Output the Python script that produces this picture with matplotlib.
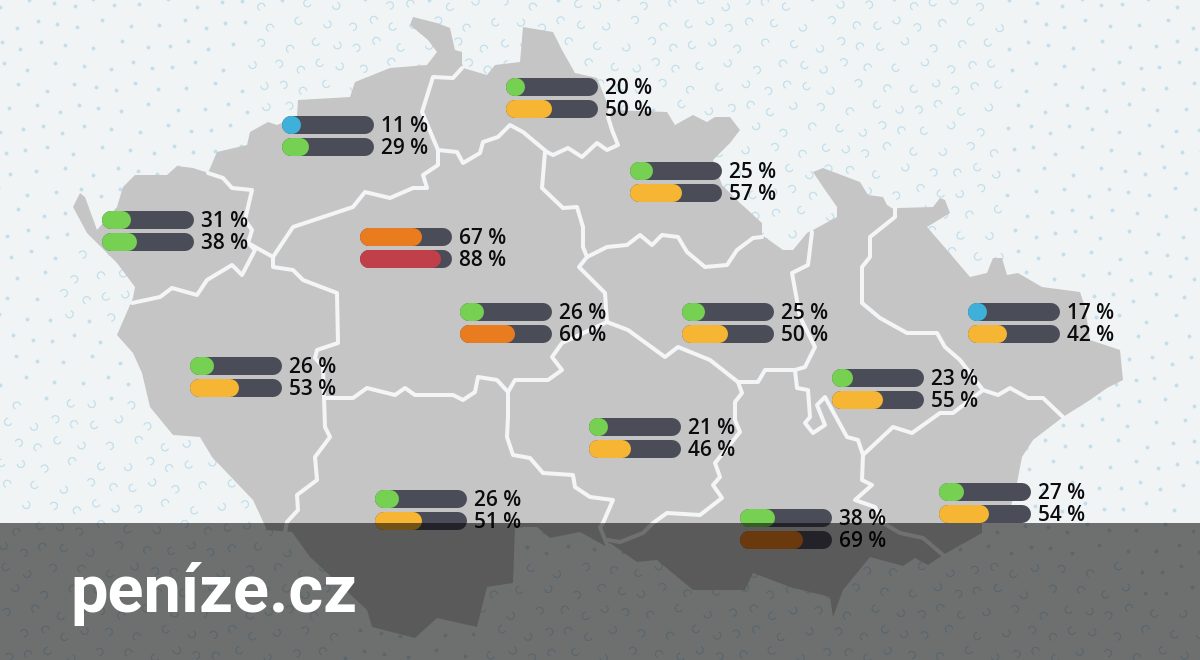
import numpy as np
import matplotlib
matplotlib.use('Agg')
import matplotlib.pyplot as plt
from matplotlib.patches import Polygon, Rectangle
from matplotlib.path import Path
from matplotlib.markers import MarkerStyle

# hodnoty za kraje: horni a dolni pruh
top_values = [11, 20, 25, 31, 67, 26, 25, 17, 23, 26, 21, 26, 38, 27]
bottom_values = [29, 50, 57, 38, 88, 60, 50, 42, 55, 53, 46, 51, 69, 54]

# kde pruhy v obrazku lezi (pixely)
bar_left = [282, 506, 630, 102, 360, 460, 682, 968, 832, 190, 589, 375, 740, 939]
bar_top_y = [125, 87, 171, 220, 237, 312, 312, 312, 378, 366, 427, 499, 518, 492]
BAR_W = 92
BAR_H = 18
BAR_GAP = 22

# obrys mapy
outline = [(73, 207), (80, 193), (85, 197), (97, 230), (117, 207), (123, 187), (135, 175), (167, 175),
           (177, 166), (193, 168), (208, 173), (217, 152), (247, 145), (250, 132), (268, 122), (277, 125),
           (297, 117), (298, 100), (350, 97), (355, 82), (390, 68), (427, 65), (437, 52), (428, 40),
           (410, 25), (413, 17), (437, 23), (450, 28), (455, 50), (462, 52), (462, 63), (463, 68),
           (487, 75), (495, 65), (520, 62), (523, 27), (553, 32), (562, 50), (575, 73), (597, 78),
           (610, 110), (667, 112), (675, 125), (693, 115), (707, 122), (715, 117), (730, 117), (740, 130),
           (730, 143), (713, 160), (722, 185), (740, 203), (762, 223), (762, 235), (783, 250), (793, 250),
           (807, 233), (813, 230), (837, 217), (837, 207), (823, 187), (813, 172), (823, 168), (860, 182),
           (868, 195), (883, 197), (887, 205), (895, 210), (898, 208), (933, 207), (940, 198), (945, 200),
           (950, 213), (927, 227), (947, 250), (970, 277), (987, 273), (993, 258), (1002, 258), (1007, 275),
           (1018, 273), (1042, 287), (1080, 292), (1085, 307), (1090, 340), (1120, 350), (1123, 380),
           (1107, 388), (1090, 400), (1063, 417), (1033, 440), (1022, 457), (1017, 483), (1010, 510),
           (982, 523), (982, 533), (943, 555), (928, 565), (915, 558), (903, 566), (870, 557), (843, 590),
           (833, 617), (830, 597), (790, 587), (753, 573), (745, 590), (693, 590), (657, 560), (637, 562),
           (610, 543), (607, 547), (580, 532), (550, 538), (537, 527), (515, 527), (513, 583), (487, 587),
           (477, 627), (437, 618), (415, 638), (372, 627), (367, 610), (310, 557), (292, 532), (267, 530),
           (253, 500), (212, 457), (200, 437), (173, 435), (150, 407), (142, 373), (133, 353), (117, 335),
           (133, 298), (135, 287), (117, 263), (87, 233)]

# hranice kraju
borders = [
    [(208, 173), (223, 178), (232, 188), (252, 190), (245, 220), (252, 230), (248, 243), (273, 257)],
    [(248, 243), (255, 250), (242, 275), (232, 265), (207, 280), (197, 295), (172, 288), (160, 297), (132, 303)],
    [(273, 257), (273, 267), (293, 270), (303, 280), (337, 293), (338, 343), (317, 350), (315, 358), (323, 367),
     (325, 427), (330, 437), (315, 457), (317, 480), (297, 495), (298, 510), (287, 522), (285, 532)],
    [(325, 398), (353, 398), (367, 388), (395, 395), (405, 388), (415, 395), (453, 395), (463, 400), (475, 392),
     (478, 377), (497, 380), (508, 392), (515, 380), (548, 380), (562, 370), (552, 357), (562, 343), (607, 322),
     (628, 330), (665, 357), (678, 347), (710, 360), (738, 382), (758, 382), (765, 370), (795, 370), (805, 367),
     (815, 347), (800, 317), (792, 273), (808, 265), (812, 232)],
    [(508, 392), (508, 417), (507, 437), (513, 455), (530, 458), (543, 473), (573, 475), (575, 487), (590, 497),
     (613, 500), (603, 523), (600, 527), (608, 547)],
    [(273, 257), (293, 227), (353, 207), (365, 192), (390, 198), (413, 188), (427, 188), (423, 175), (438, 165),
     (438, 150), (422, 112), (433, 77), (453, 78), (462, 68)],
    [(438, 150), (457, 152), (463, 163), (480, 153), (483, 142), (498, 137), (510, 125), (523, 132), (547, 152),
     (553, 155), (568, 148), (582, 157), (597, 143), (607, 150), (618, 145), (612, 130), (608, 117), (610, 110)],
    [(545, 152), (542, 188), (563, 208), (577, 207), (583, 227), (583, 247), (587, 257), (607, 247), (627, 245),
     (640, 235), (652, 245), (662, 235), (678, 237), (687, 252), (705, 267), (727, 265), (737, 250), (753, 238),
     (762, 237)],
    [(587, 257), (579, 267), (605, 293), (607, 322)],
    [(738, 382), (742, 393), (735, 402), (735, 420), (740, 432), (715, 463), (720, 477), (713, 485), (722, 498),
     (700, 515), (667, 513), (653, 523), (643, 533), (620, 542), (608, 540)],
    [(795, 370), (797, 388), (808, 390), (810, 417), (805, 423), (813, 433), (825, 425), (817, 405), (825, 397),
     (847, 437), (858, 440), (863, 455), (893, 427), (912, 433), (940, 413), (953, 413), (983, 390), (998, 395),
     (1010, 388), (1028, 398), (1043, 398), (1063, 417)],
    [(863, 455), (862, 480), (872, 485), (855, 500), (875, 507), (883, 523), (900, 533), (923, 538), (943, 555)],
    [(895, 208), (895, 217), (870, 237), (870, 257), (862, 267), (862, 303), (880, 318), (907, 333), (937, 333),
     (945, 347), (960, 360), (983, 390)],
]

# kde jsou na pozadi misto tecek obloucky (x0, x1, y0, y1)
arc_zones = [(250, 1000, 0, 110), (680, 1000, 100, 300), (0, 340, 400, 660), (60, 130, 240, 320),
             (480, 1130, 560, 660), (1000, 1200, 600, 660)]


def bar_color(v):
    if v < 20:
        return '#3fb0d9'
    if v < 40:
        return '#76d052'
    if v < 60:
        return '#f6b634'
    if v < 80:
        return '#ea7c20'
    return '#c03f49'


def in_arc_zone(x, y):
    return any(z[0] <= x <= z[1] and z[2] <= y <= z[3] for z in arc_zones)


def pill(ax, x, y, w, color, zorder):
    # tlusta cara s kulatymi konci, sirka v bodech (dpi 100)
    r = BAR_H / 2
    ax.plot([x + r, max(x + w - r, x + r + 1)], [y, y], color=color, lw=BAR_H * 0.72,
            solid_capstyle='round', zorder=zorder)


def draw_bar(ax, x, y, value):
    pill(ax, x, y, BAR_W, '#4a4c58', 5)
    pill(ax, x, y, max(BAR_H, value / 100 * BAR_W), bar_color(value), 6)
    ax.text(x + BAR_W + 7, y + 1.5, '%d %%' % value, ha='left', va='center',
            fontsize=15, fontweight='semibold', family='Open Sans', color='#0c0c0e', zorder=7)


fig = plt.figure(figsize=(12, 6.6), dpi=100, facecolor='#f1f4f5')
ax = fig.add_axes([0, 0, 1, 1])
ax.set_xlim(0, 1200)
ax.set_ylim(660, 0)
ax.axis('off')

# pozadi: sikma mrizka tecek a oblouku, bez nahody
gx, gy = np.meshgrid(np.arange(-20, 52), np.arange(0, 33))
px = (gx * 24 + gy * 11 + 6 * np.sin(gy * 1.7 + gx * 0.9)).ravel()
py = (gy * 21 + 4 * np.cos(gx * 2.3) + 3).ravel()
arc_mask = np.array([in_arc_zone(a, b) for a, b in zip(px, py)])
ax.scatter(px[~arc_mask], py[~arc_mask], s=8, color='#c4dfeb', lw=0, zorder=1)
arc_x = px[arc_mask]
arc_y = py[arc_mask]
for i, start in enumerate([0, 90, 180, 270]):
    marker = MarkerStyle(Path.arc(start, start + 250))
    ax.scatter(arc_x[i::4], arc_y[i::4], s=28, marker=marker, facecolors='none',
               edgecolors='#c2dfec', linewidths=0.9, zorder=1)

# mapa
ax.add_patch(Polygon(outline, closed=True, fc='#c5c5c6', ec='none', zorder=2))
for line in borders:
    arr = np.array(line)
    ax.plot(arr[:, 0], arr[:, 1], color='#f3f5f6', lw=2.9, solid_joinstyle='round',
            solid_capstyle='round', zorder=3)

for x, y, a, b in zip(bar_left, bar_top_y, top_values, bottom_values):
    draw_bar(ax, x, y, a)
    draw_bar(ax, x, y + BAR_GAP, b)

# tmavy pruh s logem
ax.add_patch(Rectangle((0, 523), 1200, 137, fc='black', alpha=0.54, ec='none', zorder=8))
ax.text(70, 612, 'peníze.cz', ha='left', va='baseline', fontsize=48, fontweight='semibold',
        family='Roboto', color='white', zorder=9)

fig.savefig('out.png', dpi=100, facecolor=fig.get_facecolor())
